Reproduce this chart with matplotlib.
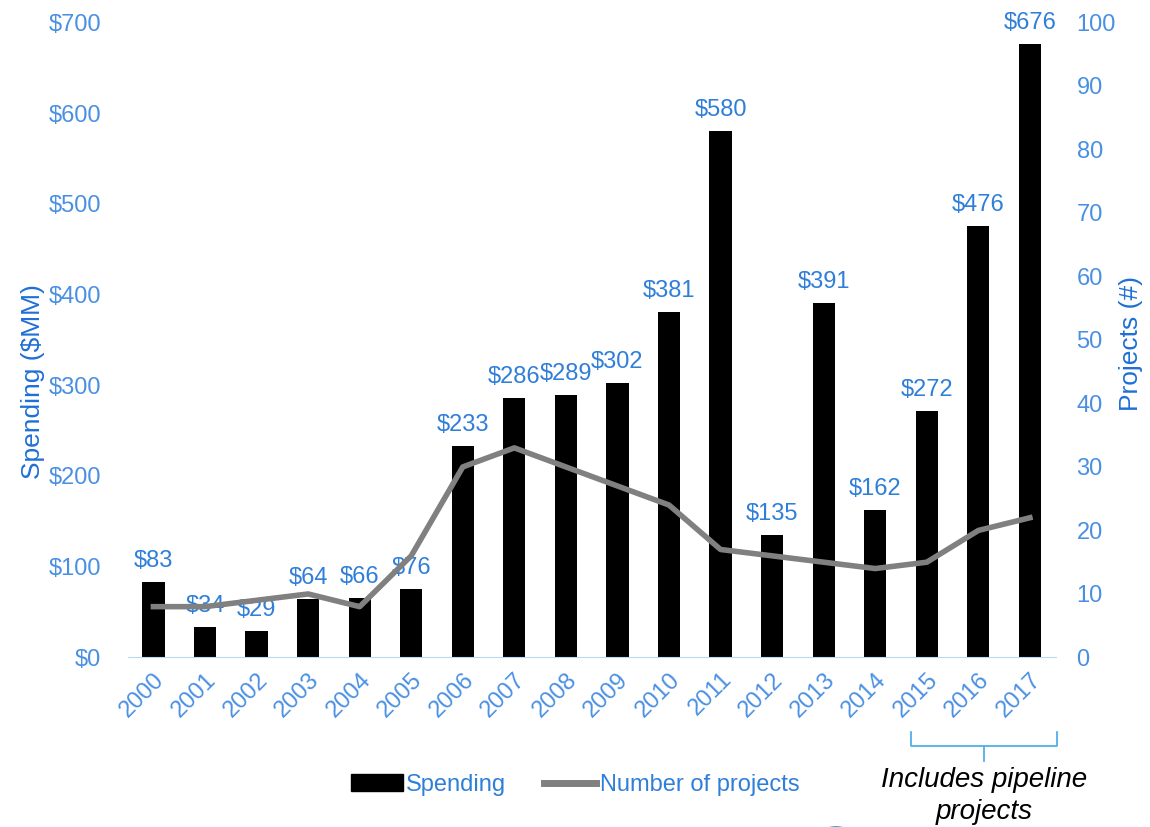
import numpy as np
import matplotlib.pyplot as plt
from matplotlib.lines import Line2D
from matplotlib.patches import Patch, Circle

plt.rcParams['font.family'] = ['Liberation Sans', 'DejaVu Sans']

years = [str(y) for y in range(2000, 2018)]
spending = [83, 34, 29, 64, 66, 76, 233, 286, 289, 302, 381, 580, 135, 391, 162, 272, 476, 676]
projects = [8, 8, 9, 10, 8, 16, 30, 33, 30, 27, 24, 17, 16, 15, 14, 15, 20, 22]

blue = '#2f7fd8'
tick_blue = '#4a90e2'
label_blue = '#1f6fd6'

fig = plt.figure(figsize=(11.5, 8.27), dpi=100)
ax = fig.add_axes([0.111, 0.205, 0.807, 0.768])
x = np.arange(len(years))
ax.bar(x, spending, width=0.43, color='black', zorder=2)
for xi, v in zip(x, spending):
    ax.text(xi, v + 11, f'${v}', ha='center', va='bottom', fontsize=17, color=blue)

ax.set_ylim(0, 700)
ax.set_yticks(range(0, 701, 100))
ax.set_yticklabels([f'${v}' for v in range(0, 701, 100)])
ax.set_xlim(-0.5, len(years) - 0.5)
ax.set_xticks(x)
ax.set_xticklabels(years, rotation=45, ha='right', rotation_mode='anchor')
ax.tick_params(axis='both', length=0, labelsize=17, labelcolor=tick_blue)
ax.tick_params(axis='y', pad=19)
ax.tick_params(axis='x', pad=8)
for s in ['top', 'right', 'left']:
    ax.spines[s].set_visible(False)
ax.spines['bottom'].set_color('#bcd8f5')
ax.set_ylabel('Spending ($MM)', fontsize=19, color=label_blue)
ax.yaxis.set_label_coords(-0.089, 0.435)

ax2 = ax.twinx()
ax2.plot(x, projects, color='#808080', lw=4, zorder=3)
ax2.set_ylim(0, 100)
ax2.set_yticks(range(0, 101, 10))
ax2.tick_params(axis='y', length=0, labelsize=17, labelcolor=tick_blue, pad=15)
for s in ['top', 'right', 'left', 'bottom']:
    ax2.spines[s].set_visible(False)
ax2.set_ylabel('Projects (#)', fontsize=19, color=label_blue)
ax2.yaxis.set_label_coords(1.068, 0.495)

handles = [Patch(color='black'), Line2D([0], [0], color='#808080', lw=5)]
fig.legend(handles, ['Spending', 'Number of projects'], loc='center', bbox_to_anchor=(0.5, 0.051),
           ncol=2, frameon=False, fontsize=17, labelcolor=blue, handlelength=2.2,
           handletextpad=0.15, columnspacing=1.6)

# bracket for pipeline years
bx0, bx1 = 911 / 1150, 1057 / 1150
by_top, by, by_tip = 1 - 732 / 827, 1 - 746 / 827, 1 - 761 / 827
fig.add_artist(Line2D([bx0, bx0, bx1, bx1], [by_top, by, by, by_top],
                      transform=fig.transFigure, color='#4fb0e8', lw=1.3))
fig.add_artist(Line2D([(bx0 + bx1) / 2] * 2, [by, by_tip],
                      transform=fig.transFigure, color='#4fb0e8', lw=1.3))
fig.text(984 / 1150, 1 - 796 / 827, 'Includes pipeline\nprojects', ha='center', va='center',
         fontsize=20, style='italic', color='black', linespacing=1.3)

# partial logo at bottom edge
fig.add_artist(Circle((836 / 1150, 1 - 842 / 827), 21 / 1150, transform=fig.transFigure,
                      color='#1c8fd9', clip_on=False))

fig.savefig('out.png', dpi=100)
